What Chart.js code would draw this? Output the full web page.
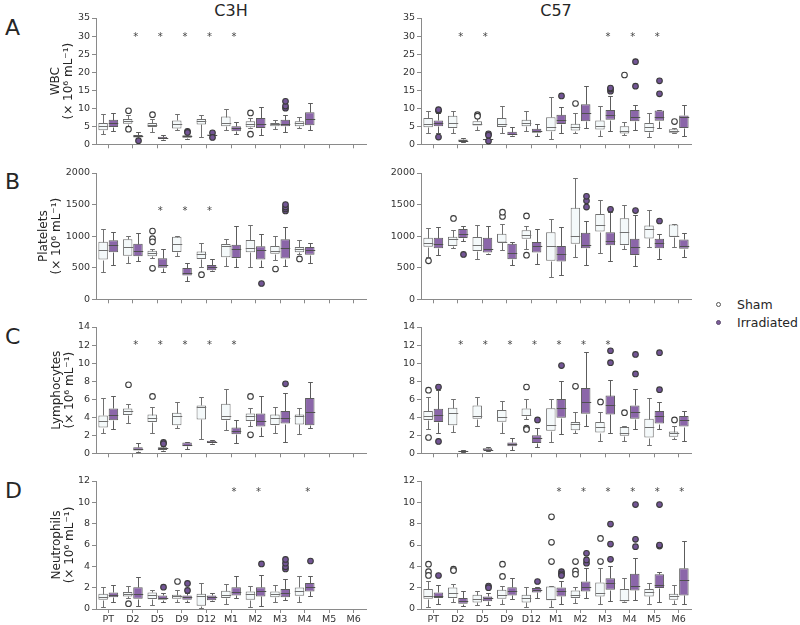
<!DOCTYPE html>
<html>
<head>
<meta charset="utf-8">
<script src="https://cdn.jsdelivr.net/npm/chart.js@4.4.0/dist/chart.umd.min.js"></script>
<style>
  body { margin: 0; background: #fff; width: 800px; height: 625px; position: relative; overflow: hidden;
         font-family: "DejaVu Sans", sans-serif; color: #262626; }
  canvas { position: absolute; }
  .letter { position: absolute; left: 5px; font-size: 22px; line-height: 22px; }
  .coltitle { position: absolute; top: 2.5px; font-size: 16px; line-height: 16px; transform: translateX(-50%); }
  .legend { position: absolute; left: 737px; font-size: 12.5px; line-height: 12.5px; }
  .dot { position: absolute; width: 4px; height: 4px; border-radius: 50%; }
</style>
</head>
<body>
<div class="letter" style="top:17px">A</div>
<div class="letter" style="top:171px">B</div>
<div class="letter" style="top:326px">C</div>
<div class="letter" style="top:480px">D</div>
<div class="coltitle" style="left:231px">C3H</div>
<div class="coltitle" style="left:556px">C57</div>
<div class="dot" style="left:715.5px;top:301.5px;border:0.8px solid #555;background:#fff;width:3.4px;height:3.4px"></div>
<div class="legend" style="top:298.5px">Sham</div>
<div class="dot" style="left:715.5px;top:319.5px;background:#7d5c9c;border:0.8px solid #5a4a6a;width:3.4px;height:3.4px"></div>
<div class="legend" style="top:316.5px">Irradiated</div>

<script>
const days = ['PT', 'D2', 'D5', 'D9', 'D12', 'M1', 'M2', 'M3', 'M4', 'M5', 'M6'];

// each row: [low whisker, q1, median, q3, high whisker, ...outliers]; null = no data
const wbcC3HSham = [
  [2.9, 3.9, 5.1, 5.9, 8.3], [5.0, 5.7, 6.4, 7.0, 8.0, 9.3, 4.2], [3.5, 4.8, 5.4, 5.9, 7.0, 8.2],
  [4.1, 4.4, 5.6, 6.6, 8.5], [2.1, 5.5, 6.4, 7.0, 8.1], [4.1, 5.0, 5.8, 7.7, 9.9],
  [4.5, 4.7, 5.7, 6.4, 7.4, 8.7, 2.8], [4.3, 5.0, 5.5, 5.9, 6.6], [4.4, 5.0, 5.9, 6.4, 7.5], null, null];
const wbcC3HIrr = [
  [3.6, 4.8, 5.9, 6.8, 8.7], [1.5, 1.9, 2.2, 2.6, 3.5, 1.0], [1.2, 1.5, 1.8, 2.1, 2.6],
  [1.4, 1.8, 2.25, 2.5, 3.0, 3.6, 3.3], [2.2, 2.4, 2.6, 2.7, 2.9, 3.2, 1.9], [2.9, 3.6, 4.4, 5.0, 6.3],
  [2.5, 4.5, 5.6, 7.3, 10.2], [3.5, 5.0, 5.7, 6.8, 8.2, 10.0, 10.6, 11.9], [4.1, 5.3, 6.9, 8.9, 11.5], null, null];
const wbcC57Sham = [
  [3.0, 4.7, 5.7, 7.3, 9.1], [3.2, 4.5, 6.0, 7.9, 9.1], [3.9, 5.2, 5.7, 6.4, 7.3, 8.2, 7.8],
  [3.0, 4.8, 5.6, 7.3, 10.6], [3.6, 5.0, 5.9, 6.8, 9.3], [1.6, 3.6, 4.9, 7.5, 13.0],
  [3.0, 3.8, 4.9, 5.7, 8.6, 11.3], [2.3, 4.1, 5.2, 6.6, 10.6], [2.7, 3.0, 3.6, 5.0, 6.2, 19.2],
  [2.0, 3.4, 4.9, 5.9, 8.8], [3.0, 3.2, 3.7, 4.2, 4.5, 6.3]];
const wbcC57Irr = [
  [3.2, 5.0, 5.8, 6.6, 8.6, 9.3, 9.6, 2.0], [0.6, 0.75, 1.05, 1.35, 1.8], [1.0, 1.1, 1.35, 1.5, 2.0, 2.9, 2.5, 0.9],
  [2.3, 2.55, 2.9, 3.45, 4.7], [2.3, 3.2, 3.6, 4.3, 5.6], [3.2, 5.6, 6.8, 8.2, 10.3, 13.4],
  [4.4, 6.4, 8.6, 11.1, 16.2], [3.6, 6.8, 8.2, 9.5, 13.3, 14.7, 15.3, 15.6], [3.9, 6.4, 7.6, 9.5, 11.0, 16.1, 22.9],
  [4.5, 6.5, 7.5, 9.4, 9.6, 14.0, 17.6], [2.3, 4.5, 7.6, 8.0, 11.0]];

const pltC3HSham = [
  [430, 630, 780, 910, 1120], [570, 690, 830, 950, 1010], [650, 680, 735, 770, 800, 1080, 960, 910, 490],
  [680, 750, 870, 990, 1000], [510, 640, 715, 755, 890, 390], [520, 665, 850, 875, 950],
  [505, 745, 815, 940, 1170], [620, 720, 770, 845, 1010, 480], [720, 745, 800, 830, 940, 640], null, null];
const pltC3HIrr = [
  [545, 745, 860, 935, 1060], [600, 680, 770, 880, 1050], [430, 500, 545, 650, 790],
  [290, 375, 420, 495, 580], [455, 460, 505, 545, 640], [510, 655, 790, 865, 1160],
  [505, 630, 780, 840, 1040, 250], [520, 645, 810, 950, 1140, 1400, 1430, 1460, 1500], [570, 705, 780, 830, 890], null, null];
const pltC57Sham = [
  [677, 834, 886, 974, 1130, 610], [820, 844, 960, 990, 1100, 1280], [636, 766, 860, 985, 1180],
  [776, 900, 915, 1037, 1190, 1313, 1380], [792, 959, 1020, 1094, 1160, 1320, 698], [350, 610, 840, 1063, 1270],
  [662, 880, 1005, 1450, 1925], [729, 1073, 1170, 1349, 1570], [800, 860, 1060, 1285, 1495],
  [833, 964, 1110, 1167, 1415], [828, 990, 1005, 1183, 1198]];
const pltC57Irr = [
  [700, 807, 880, 974, 1150], [920, 970, 1040, 1115, 1165, 710], [714, 740, 800, 974, 1157],
  [542, 636, 740, 880, 906], [557, 740, 840, 906, 1120], [385, 600, 725, 844, 1140],
  [542, 807, 865, 1052, 1245, 1460, 1560, 1630], [600, 854, 925, 1063, 1375, 1425], [521, 703, 830, 958, 1340, 1405],
  [636, 807, 895, 958, 1030, 1240], [677, 802, 850, 948, 1050]];

const lymC3HSham = [
  [2.3, 2.85, 3.6, 4.2, 6.15], [3.33, 4.24, 4.68, 4.97, 5.5, 7.6], [2.23, 3.47, 3.95, 4.3, 5.1, 6.3],
  [2.85, 3.1, 4.1, 4.5, 5.65], [1.64, 3.76, 5.15, 5.3, 6.25], [2.56, 3.7, 4.1, 5.5, 7.1],
  [3.0, 3.58, 4.1, 4.42, 5.04, 6.3, 2.05], [2.3, 3.14, 3.9, 4.3, 5.1], [2.12, 3.2, 4.1, 4.3, 5.04], null, null];
const lymC3HIrr = [
  [2.74, 3.66, 4.3, 4.97, 6.4], [0.15, 0.3, 0.48, 0.66, 1.13], [0.2, 0.37, 0.55, 0.66, 0.85, 1.2, 1.05],
  [0.48, 0.77, 0.95, 1.2, 1.28], [1.05, 1.13, 1.28, 1.39, 1.43], [1.13, 2.12, 2.45, 2.85, 3.65],
  [1.94, 2.96, 3.6, 4.42, 6.4], [1.28, 3.29, 3.9, 4.68, 6.7, 7.7], [2.85, 3.1, 4.6, 6.14, 7.85], null, null];
const lymC57Sham = [
  [2.67, 3.69, 4.1, 4.68, 6.2, 7.0, 1.75], [2.38, 3.1, 4.5, 5.04, 6.03], [3.03, 3.84, 4.15, 5.3, 6.25],
  [2.3, 3.5, 4.0, 4.79, 5.85], [3.8, 4.13, 4.3, 4.97, 6.0, 7.35, 2.8, 2.65], [1.2, 2.5, 3.1, 5.0, 6.03],
  [2.23, 2.56, 3.2, 3.47, 4.6, 7.42], [1.39, 2.3, 2.95, 3.47, 4.6, 5.7], [1.32, 1.94, 2.3, 2.92, 3.03, 4.5],
  [0.95, 1.75, 2.95, 3.84, 6.14], [1.57, 1.83, 2.2, 2.41, 3.03, 3.7]];
const lymC57Irr = [
  [2.3, 3.47, 4.3, 4.93, 7.0, 7.35, 1.32], [0.1, 0.15, 0.2, 0.28, 0.32], [0.25, 0.3, 0.42, 0.55, 0.73],
  [0.37, 0.77, 1.0, 1.2, 1.75], [0.66, 1.13, 1.7, 2.0, 2.85, 3.7], [2.12, 3.95, 5.05, 6.03, 7.97, 9.72],
  [3.03, 4.38, 5.7, 7.24, 11.26], [2.3, 4.31, 5.4, 6.4, 8.08, 10.05, 11.37], [2.67, 3.84, 4.6, 5.3, 7.13, 8.8, 10.96],
  [2.67, 3.29, 4.1, 4.68, 5.7, 7.05, 11.15], [1.39, 2.96, 3.65, 4.13, 4.68]];

const neuC3HSham = [
  [0.19, 0.87, 1.15, 1.43, 2.02], [1.03, 1.18, 1.4, 1.59, 2.18, 0.5], [0.34, 0.93, 1.3, 1.55, 1.8],
  [0.62, 0.96, 1.2, 1.34, 1.8, 2.58], [0.06, 0.31, 1.2, 1.43, 2.43], [0.5, 1.03, 1.3, 1.71, 2.33],
  [0.19, 0.87, 1.4, 1.65, 2.18], [0.65, 1.09, 1.4, 1.65, 2.27], [0.62, 1.24, 1.7, 2.02, 3.14], null, null];
const neuC3HIrr = [
  [0.62, 1.09, 1.35, 1.55, 2.27], [0.25, 0.96, 1.43, 2.05, 2.98], [0.62, 0.87, 1.05, 1.27, 1.49, 2.05],
  [0.62, 0.87, 1.1, 1.27, 1.5, 2.4, 1.74], [0.72, 0.81, 1.1, 1.27, 1.49], [1.03, 1.27, 1.6, 2.05, 3.05],
  [0.31, 1.18, 1.65, 2.05, 3.2, 4.23], [0.81, 1.09, 1.5, 1.87, 2.8, 3.75, 3.95, 4.3, 4.65], [1.18, 1.65, 2.05, 2.43, 3.05, 4.5], null, null];
const neuC57Sham = [
  [0.16, 0.96, 1.25, 1.87, 2.58, 4.2, 3.5, 3.15], [0.65, 1.03, 1.5, 2.02, 2.36, 3.73, 3.6], [0.4, 0.62, 0.95, 1.34, 1.71],
  [0.5, 0.96, 1.3, 1.8, 2.18, 3.05, 4.2], [0.19, 0.62, 1.0, 1.34, 2.02], [0.19, 0.81, 0.9, 2.11, 2.18, 8.64, 6.25, 4.45],
  [0.56, 1.03, 1.3, 1.74, 2.05, 4.45, 3.57, 3.26], [0.5, 1.18, 1.5, 2.49, 3.82, 4.45, 6.62], [0.62, 0.72, 0.8, 1.87, 2.89],
  [0.5, 1.18, 1.6, 1.87, 2.43], [0.5, 0.87, 1.18, 1.43, 2.21]];
const neuC57Irr = [
  [0.47, 1.03, 1.25, 1.55, 2.27, 3.14], [0.31, 0.5, 0.72, 1.03, 1.65], [0.4, 0.72, 1.0, 1.18, 1.49, 2.15, 2.0],
  [0.93, 1.27, 1.7, 2.05, 2.89], [1.03, 1.55, 1.8, 1.96, 2.05, 2.58], [0.47, 1.18, 1.65, 2.02, 2.6, 3.5, 3.3, 3.15],
  [1.03, 1.65, 2.1, 2.58, 3.82, 4.3, 4.6, 5.22], [0.72, 1.8, 2.4, 2.89, 4.07, 4.66, 6.09, 7.96],
  [0.87, 1.74, 2.15, 3.3, 4.76, 5.84, 6.53, 9.79], [0.62, 1.96, 2.25, 3.26, 3.51, 5.9, 6.0, 9.79], [0.47, 1.27, 2.7, 3.82, 6.4]];

// significance marks (*)
const wbcC3HStars = ['D2', 'D5', 'D9', 'D12', 'M1'];
const wbcC57Stars = ['D2', 'D5', 'M3', 'M4', 'M5'];
const pltC3HStars = ['D5', 'D9', 'D12'];
const pltC57Stars = [];
const lymC3HStars = ['D2', 'D5', 'D9', 'D12', 'M1'];
const lymC57Stars = ['D2', 'D5', 'D9', 'D12', 'M1', 'M2', 'M3'];
const neuC3HStars = ['M1', 'M2', 'M4'];
const neuC57Stars = ['M1', 'M2', 'M3', 'M4', 'M5', 'M6'];

const unit = '(× 10⁶ mL⁻¹)';
const rowTops = [18, 173, 327, 481];
const titlePads = [48.9, 37.4, 49.9, 49.9];
const plotH = 128;

const shamFill = '#f4f9fa', shamEdge = '#707070';
const irrFill = '#8b66a9', irrEdge = '#5c5c5c';
const axisCol = '#8a8a8a', textCol = '#333333';

Chart.defaults.font.family = '"DejaVu Sans", sans-serif';

// whiskers, medians, outliers and the stars, drawn on top of the floating bars
const boxExtras = {
  id: 'boxExtras',
  afterDatasetsDraw(chart, args, opts) {
    const ctx = chart.ctx, xs = chart.scales.x, ys = chart.scales.y;
    const py = v => Math.round(ys.getPixelForValue(v)) + 0.5;
    ctx.save();
    chart.data.datasets.forEach((ds, d) => {
      const meta = chart.getDatasetMeta(d);
      ds.stats.forEach((r, i) => {
        if (!r) return;
        const bar = meta.data[i];
        const cx = Math.round(bar.x) + 0.5, w = bar.width;
        ctx.strokeStyle = ds.borderColor;
        ctx.lineWidth = 1;
        ctx.beginPath();
        ctx.moveTo(cx, py(r[3])); ctx.lineTo(cx, py(r[4]));
        ctx.moveTo(cx, py(r[1])); ctx.lineTo(cx, py(r[0]));
        ctx.moveTo(cx - w / 4, py(r[4])); ctx.lineTo(cx + w / 4, py(r[4]));
        ctx.moveTo(cx - w / 4, py(r[0])); ctx.lineTo(cx + w / 4, py(r[0]));
        ctx.stroke();
        ctx.strokeStyle = ds.medianColor;
        ctx.beginPath();
        ctx.moveTo(cx - w / 2, py(r[2])); ctx.lineTo(cx + w / 2, py(r[2]));
        ctx.stroke();
        r.slice(5).forEach(v => {
          ctx.beginPath();
          ctx.arc(cx, ys.getPixelForValue(v), 2.8, 0, Math.PI * 2);
          ctx.fillStyle = ds.outlierColor;
          ctx.fill();
          ctx.strokeStyle = '#3a3a3a';
          ctx.lineWidth = 1.1;
          ctx.stroke();
        });
      });
    });
    ctx.fillStyle = '#444';
    ctx.font = '10px "DejaVu Sans"';
    ctx.textAlign = 'center';
    ctx.textBaseline = 'alphabetic';
    opts.stars.forEach(lab => {
      const sx = xs.getPixelForValue(days.indexOf(lab)) + 3;
      ctx.fillText('*', sx, ys.getPixelForValue(opts.starAt) + 6);
    });
    ctx.restore();
  }
};

const panels = [
  { sham: wbcC3HSham, irr: wbcC3HIrr, stars: wbcC3HStars, starAt: 30.7, max: 35, step: 5, row: 0, col: 0, title: ['WBC', unit] },
  { sham: wbcC57Sham, irr: wbcC57Irr, stars: wbcC57Stars, starAt: 30.7, max: 35, step: 5, row: 0, col: 1 },
  { sham: pltC3HSham, irr: pltC3HIrr, stars: pltC3HStars, starAt: 1440, max: 2000, step: 500, row: 1, col: 0, title: ['Platelets', unit] },
  { sham: pltC57Sham, irr: pltC57Irr, stars: pltC57Stars, starAt: 1440, max: 2000, step: 500, row: 1, col: 1 },
  { sham: lymC3HSham, irr: lymC3HIrr, stars: lymC3HStars, starAt: 12.3, max: 14, step: 2, row: 2, col: 0, title: ['Lymphocytes', unit] },
  { sham: lymC57Sham, irr: lymC57Irr, stars: lymC57Stars, starAt: 12.3, max: 14, step: 2, row: 2, col: 1 },
  { sham: neuC3HSham, irr: neuC3HIrr, stars: neuC3HStars, starAt: 11.25, max: 12, step: 2, row: 3, col: 0, title: ['Neutrophils', unit] },
  { sham: neuC57Sham, irr: neuC57Irr, stars: neuC57Stars, starAt: 11.25, max: 12, step: 2, row: 3, col: 1 }
];

function makePanel(p) {
  const left = p.col === 0 ? 0 : 380;
  const width = p.col === 0 ? 380 : 316;
  const axisW = p.col === 0 ? 96 : 41;
  const xH = p.row === 3 ? 18 : 6;
  const cv = document.createElement('canvas');
  cv.width = width;
  cv.height = 10 + plotH + xH;
  cv.style.left = left + 'px';
  cv.style.top = (rowTops[p.row] - 10) + 'px';
  document.body.appendChild(cv);

  new Chart(cv, {
    type: 'bar',
    data: {
      labels: days,
      datasets: [
        { label: 'Sham', data: p.sham.map(r => r ? [r[1], r[3]] : null), stats: p.sham,
          backgroundColor: shamFill, borderColor: shamEdge, medianColor: shamEdge, outlierColor: '#ffffff',
          borderWidth: 1, borderSkipped: false, categoryPercentage: 0.84, barPercentage: 0.92 },
        { label: 'Irradiated', data: p.irr.map(r => r ? [r[1], r[3]] : null), stats: p.irr,
          backgroundColor: irrFill, borderColor: irrEdge, medianColor: '#4f4f4f', outlierColor: '#735596',
          borderWidth: 1, borderSkipped: false, categoryPercentage: 0.84, barPercentage: 0.92 }
      ]
    },
    options: {
      responsive: false,
      animation: false,
      events: [],
      layout: { autoPadding: false, padding: { top: 10, right: width - axisW - 270, bottom: 0, left: 0 } },
      plugins: {
        legend: { display: false },
        tooltip: { enabled: false },
        boxExtras: { stars: p.stars, starAt: p.starAt }
      },
      scales: {
        x: {
          offset: true,
          grid: { drawOnChartArea: false, offset: false, tickLength: 4, color: axisCol },
          border: { color: axisCol },
          ticks: { display: p.row === 3, autoSkip: false, maxRotation: 0, padding: 1,
                   color: textCol, font: { size: 9.5 } },
          afterFit: s => { s.height = xH; }
        },
        y: {
          min: 0, max: p.max,
          grid: { drawOnChartArea: false, tickLength: 4, color: axisCol },
          border: { color: axisCol },
          ticks: { stepSize: p.step, padding: 2, color: textCol, font: { size: 9.5 },
                   callback: v => String(v) },
          title: { display: !!p.title, text: p.title || '', color: '#262626',
                   font: { size: 12, lineHeight: 1.1 }, padding: { top: titlePads[p.row], bottom: 0 } },
          afterFit: s => { s.width = axisW; }
        }
      }
    },
    plugins: [boxExtras]
  });
}

panels.forEach(makePanel);
</script>
</body>
</html>
